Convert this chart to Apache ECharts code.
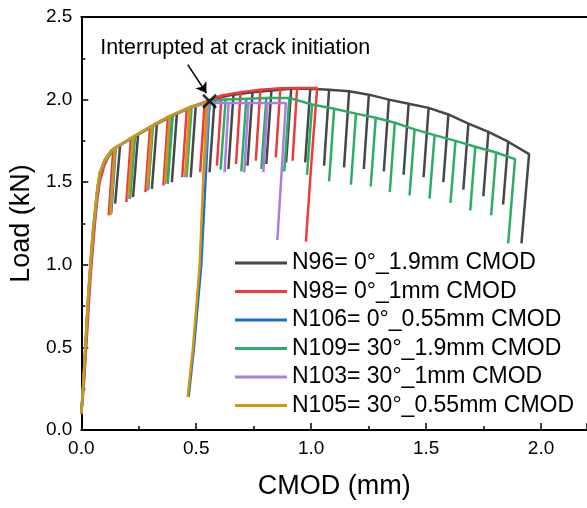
<!DOCTYPE html>
<html><head><meta charset="utf-8">
<script src="https://cdn.jsdelivr.net/npm/echarts@6/dist/echarts.min.js"></script>
<style>html,body{margin:0;padding:0;background:#fff}#c{width:587px;height:508px}</style>
</head><body><div id="c"></div>
<script>
// ---------- data ----------
const seriesNames = ['N96= 0°_1.9mm CMOD','N98= 0°_1mm CMOD','N106= 0°_0.55mm CMOD','N109= 30°_1.9mm CMOD','N103= 30°_1mm CMOD','N105= 30°_0.55mm CMOD'];
const xTicks = [0.0, 0.5, 1.0, 1.5, 2.0];
const yTicks = [0.0, 0.5, 1.0, 1.5, 2.0, 2.5];

// N96 (black)
const n96EnvX = [0,0.01,0.02,0.03,0.04,0.05,0.06,0.07,0.08,0.10,0.13,0.15];
const n96EnvY = [0.1,0.28,0.52,0.76,0.97,1.15,1.30,1.43,1.53,1.62,1.68,1.71];
const n96TopX = [0.169,0.247,0.329,0.416,0.498,0.580,0.662,0.745,0.827,0.913,0.996,1.078,1.165,1.251,1.338,1.424,1.511,1.597,1.684,1.771,1.857];
const n96TopY = [1.725,1.79,1.855,1.915,1.965,2.005,2.03,2.045,2.055,2.065,2.065,2.06,2.05,2.03,2.00,1.975,1.95,1.91,1.855,1.805,1.745];
const n96BotX = [0.147,0.225,0.307,0.394,0.476,0.558,0.640,0.723,0.805,0.891,0.974,1.056,1.143,1.229,1.316,1.402,1.489,1.575,1.662,1.749,1.835];
const n96BotY = [1.37,1.41,1.46,1.50,1.53,1.56,1.58,1.60,1.61,1.62,1.62,1.60,1.59,1.58,1.565,1.545,1.53,1.50,1.455,1.415,1.365];
const n96EndX = [1.948,1.915];
const n96EndY = [1.67,1.13];

// N98 (red)
const n98EnvX = [0,0.01,0.02,0.03,0.04,0.05,0.06,0.07,0.08,0.10,0.12];
const n98EnvY = [0.1,0.25,0.47,0.70,0.92,1.10,1.26,1.40,1.50,1.60,1.66];
const n98TopX = [0.139,0.216,0.299,0.377,0.459,0.537,0.610,0.693,0.779,0.866,0.939];
const n98TopY = [1.70,1.765,1.835,1.895,1.945,1.985,2.025,2.045,2.06,2.068,2.07];
const n98BotX = [0.119,0.196,0.279,0.357,0.439,0.517,0.590,0.673,0.759,0.846,0.919];
const n98BotY = [1.30,1.38,1.44,1.48,1.53,1.56,1.60,1.61,1.63,1.65,1.63];
const n98EndX = [1.026,1.0,0.977];
const n98EndY = [2.07,1.6,1.14];

// N106 (blue)
const n106EnvX = [0,0.01,0.02,0.03,0.04,0.05,0.06,0.07,0.08,0.10,0.13];
const n106EnvY = [0.1,0.31,0.56,0.81,1.01,1.19,1.33,1.46,1.55,1.63,1.69];
const n106TopX = [0.150,0.228,0.310,0.390,0.475];
const n106TopY = [1.71,1.775,1.84,1.90,1.955];
const n106BotX = [0.130,0.208,0.290,0.370,0.455];
const n106BotY = [1.31,1.40,1.46,1.50,1.54];
const n106EndX = [0.558,0.54,0.522,0.49,0.467];
const n106EndY = [1.99,1.5,1.0,0.5,0.2];

// N109 (green)
const n109EnvX = [0,0.01,0.02,0.03,0.04,0.05,0.06,0.07,0.08,0.10,0.13];
const n109EnvY = [0.1,0.30,0.54,0.78,0.99,1.16,1.31,1.44,1.54,1.62,1.68];
const n109TopX = [0.147,0.234,0.312,0.398,0.480,0.558,0.628,0.718,0.805,0.905,1.004,1.100,1.195,1.281,1.364,1.450,1.537,1.628,1.714,1.805];
const n109TopY = [1.705,1.78,1.84,1.905,1.955,1.99,2.0,2.005,2.01,2.01,1.97,1.945,1.915,1.89,1.86,1.82,1.785,1.75,1.715,1.68];
const n109BotX = [0.125,0.212,0.290,0.376,0.458,0.536,0.606,0.696,0.783,0.883,0.982,1.078,1.173,1.259,1.342,1.428,1.515,1.606,1.692,1.783];
const n109BotY = [1.35,1.40,1.45,1.49,1.53,1.56,1.576,1.566,1.58,1.565,1.545,1.505,1.485,1.475,1.44,1.42,1.40,1.375,1.33,1.30];
const n109EndX = [1.887,1.857];
const n109EndY = [1.64,1.13];

// N103 (purple)
const n103EnvX = [0,0.01,0.02,0.03,0.04,0.05,0.06,0.07,0.08,0.10,0.13];
const n103EnvY = [0.1,0.30,0.55,0.80,1.00,1.18,1.32,1.45,1.55,1.63,1.69];
const n103TopX = [0.147,0.225,0.307,0.385,0.472,0.553,0.641,0.727,0.810];
const n103TopY = [1.705,1.775,1.84,1.90,1.95,1.98,1.98,1.98,1.98];
const n103BotX = [0.127,0.205,0.287,0.365,0.452,0.533,0.623,0.709,0.792];
const n103BotY = [1.33,1.40,1.46,1.49,1.53,1.55,1.56,1.56,1.56];
const n103EndX = [0.890,0.853];
const n103EndY = [1.98,1.15];

// N105 (gold)
const n105EnvX = [0,0.01,0.02,0.03,0.04,0.05,0.06,0.07,0.08,0.10,0.13];
const n105EnvY = [0.1,0.32,0.57,0.82,1.02,1.20,1.34,1.47,1.56,1.63,1.69];
const n105TopX = [0.147,0.225,0.307,0.385,0.472];
const n105TopY = [1.71,1.775,1.84,1.90,1.955];
const n105BotX = [0.127,0.205,0.287,0.365,0.452];
const n105BotY = [1.30,1.41,1.47,1.50,1.545];
const n105EndX = [0.545,0.53,0.515,0.486,0.463];
const n105EndY = [1.985,1.5,1.0,0.5,0.2];

// annotation
const noteText = 'Interrupted at crack initiation';
const crackPoint = [0.558, 1.99];
const arrowFrom = [0.463, 2.212];
const arrowTo = [0.544, 2.04];
const notePos = [0.082, 2.31];

// ---------- build ----------
function build(envX, envY, topX, topY, botX, botY, endX, endY) {
  const pts = [];
  for (let i = 0; i < envX.length; i++) pts.push([envX[i], envY[i]]);
  for (let i = 0; i < topX.length; i++) {
    pts.push([topX[i], topY[i]]);
    pts.push([botX[i], botY[i]]);
    pts.push([topX[i], topY[i]]);
  }
  for (let i = 0; i < endX.length; i++) pts.push([endX[i], endY[i]]);
  return pts;
}
const seriesData = [
  build(n96EnvX,n96EnvY,n96TopX,n96TopY,n96BotX,n96BotY,n96EndX,n96EndY),
  build(n98EnvX,n98EnvY,n98TopX,n98TopY,n98BotX,n98BotY,n98EndX,n98EndY),
  build(n106EnvX,n106EnvY,n106TopX,n106TopY,n106BotX,n106BotY,n106EndX,n106EndY),
  build(n109EnvX,n109EnvY,n109TopX,n109TopY,n109BotX,n109BotY,n109EndX,n109EndY),
  build(n103EnvX,n103EnvY,n103TopX,n103TopY,n103BotX,n103BotY,n103EndX,n103EndY),
  build(n105EnvX,n105EnvY,n105TopX,n105TopY,n105BotX,n105BotY,n105EndX,n105EndY)
];
const colors = ['#474747','#f03a3a','#1c6bd6','#2fab68','#a97ee0','#cc9a0e'];
const FONT = '"Liberation Sans", Arial, Helvetica, sans-serif';

const chart = echarts.init(document.getElementById('c'), null, {renderer: 'canvas'});
const lineSeries = seriesNames.map((n, i) => ({
  name: n, type: 'line', data: seriesData[i], showSymbol: false, symbol: 'none',
  lineStyle: {color: colors[i], width: 2.5}, itemStyle: {color: colors[i]},
  z: 2 + i, silent: true, clip: false
}));

const axisCommon = {
  axisLine: {show: true, onZero: false, lineStyle: {color: '#000', width: 2}},
  axisTick: {show: true, inside: true, length: 7, lineStyle: {color: '#000', width: 1.5}},
  minorTick: {show: true, splitNumber: 2, length: 4, lineStyle: {color: '#000', width: 1.5}},
  splitLine: {show: false},
  axisLabel: {color: '#000', fontSize: 19, fontFamily: FONT, margin: 9, formatter: v => v.toFixed(1)},
  nameTextStyle: {color: '#000', fontSize: 27, fontFamily: FONT}
};

chart.setOption({
  animation: false,
  backgroundColor: '#fff',
  grid: {left: 81, right: -2, top: 17, bottom: 78, containLabel: false},
  legend: {
    orient: 'vertical', left: 230, top: 246.5, itemWidth: 52, itemHeight: 3, itemGap: 5.5,
    icon: 'rect', selectedMode: false, data: seriesNames,
    textStyle: {color: '#000', fontSize: 23, fontFamily: FONT}
  },
  xAxis: [
    Object.assign({}, axisCommon, {
      type: 'value', min: xTicks[0], max: 2.2, interval: 0.5, position: 'bottom',
      name: 'CMOD (mm)', nameLocation: 'middle', nameGap: 43,
      axisLabel: Object.assign({}, axisCommon.axisLabel, {showMaxLabel: false})
    }),
    {type: 'value', min: 0, max: 2.2, position: 'top',
     axisLine: {show: true, onZero: false, lineStyle: {color: '#000', width: 2}},
     axisTick: {show: false}, axisLabel: {show: false}, splitLine: {show: false}}
  ],
  yAxis: [
    Object.assign({}, axisCommon, {
      type: 'value', min: yTicks[0], max: yTicks[yTicks.length - 1], interval: 0.5,
      name: 'Load (kN)', nameLocation: 'middle', nameGap: 35
    })
  ],
  series: lineSeries.concat([
    {
      name: 'crack', type: 'scatter', data: [crackPoint], z: 20, silent: true,
      symbol: 'path://M0,0L10,10M10,0L0,10', symbolSize: 13,
      itemStyle: {color: 'rgba(0,0,0,0)', borderColor: '#000', borderWidth: 2.5},
      markLine: {
        silent: true, symbol: ['none', 'arrow'], symbolSize: 10, animation: false,
        lineStyle: {color: '#000', width: 1.5, type: 'solid'}, label: {show: false},
        data: [[{coord: arrowFrom}, {coord: arrowTo}]]
      }
    },
    {
      name: 'note', type: 'scatter', data: [notePos], symbolSize: 0, z: 20, silent: true,
      itemStyle: {opacity: 1},
      label: {show: true, position: 'right', distance: 0, formatter: noteText,
              color: '#000', fontSize: 21.5, fontFamily: FONT, opacity: 1}
    }
  ])
});
</script>
</body></html>
